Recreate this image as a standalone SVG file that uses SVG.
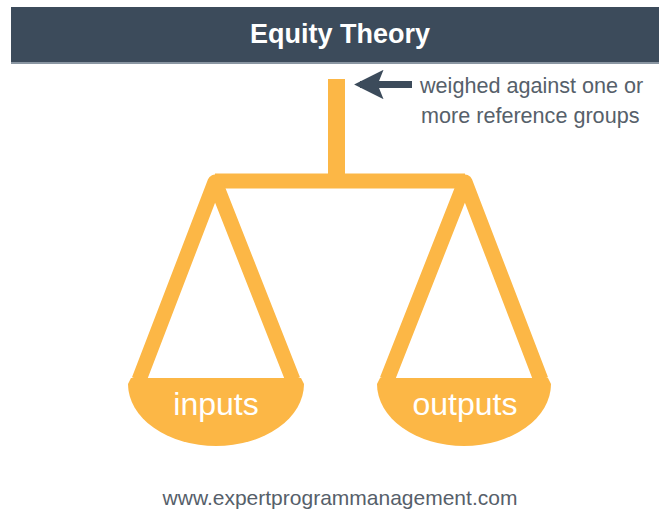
<svg xmlns="http://www.w3.org/2000/svg" width="659" height="516" viewBox="0 0 659 516">
<defs>
<style>
.scale{fill:none;stroke:#fcb746;stroke-width:15;stroke-linejoin:round}
.pan{fill:#fcb746}
.panlbl{font-family:"Liberation Sans",Arial,sans-serif;font-size:32px;fill:#ffffff;text-anchor:middle}
.note{font-family:"Liberation Sans",Arial,sans-serif;font-size:21.6px;fill:#56606a}
</style>
<marker id="ah" viewBox="0 0 10 10" refX="8" refY="5" markerWidth="4.2" markerHeight="4.2" orient="auto" markerUnits="strokeWidth">
<path d="M10,5 L0,0 L2,5 L0,10 Z" fill="#3c4b5b"/>
</marker>
</defs>
<rect width="659" height="516" fill="#ffffff"/>
<g id="header">
<rect x="11" y="7" width="648" height="56" fill="#3c4b5b"/>
<rect x="11" y="62" width="648" height="2" fill="#8a96a2"/>
<text x="340" y="43" font-family="'Liberation Sans',Arial,sans-serif" font-size="27" font-weight="bold" fill="#ffffff" text-anchor="middle">Equity Theory</text>
</g>
<g id="scale">
<rect x="328" y="79" width="17" height="100" fill="#fcb746"/>
<path class="scale" d="M215,181 L465,181"/>
<path class="scale" d="M139,380 L215,182 L293,380"/>
<path class="scale" d="M387,380 L465,182 L541,380"/>
</g>
<g id="inputs">
<path class="pan" d="M131,378 L301,378 L304,384 A88 62 0 0 1 128,384 Z"/>
<text class="panlbl" x="216" y="415">inputs</text>
</g>
<g id="outputs">
<path class="pan" d="M380,378 L548,378 L551,384 A87 62 0 0 1 377,384 Z"/>
<text class="panlbl" x="465" y="415">outputs</text>
</g>
<g id="connectors">
<line x1="412" y1="84.5" x2="360" y2="84.5" stroke="#3c4b5b" stroke-width="7" marker-end="url(#ah)"/>
</g>
<g id="note">
<text class="note" x="420" y="93">weighed against one or</text>
<text class="note" x="421" y="123">more reference groups</text>
</g>
<g id="footer">
<text x="340" y="505" font-family="'Liberation Sans',Arial,sans-serif" font-size="21" fill="#56606a" text-anchor="middle">www.expertprogrammanagement.com</text>
</g>
</svg>
